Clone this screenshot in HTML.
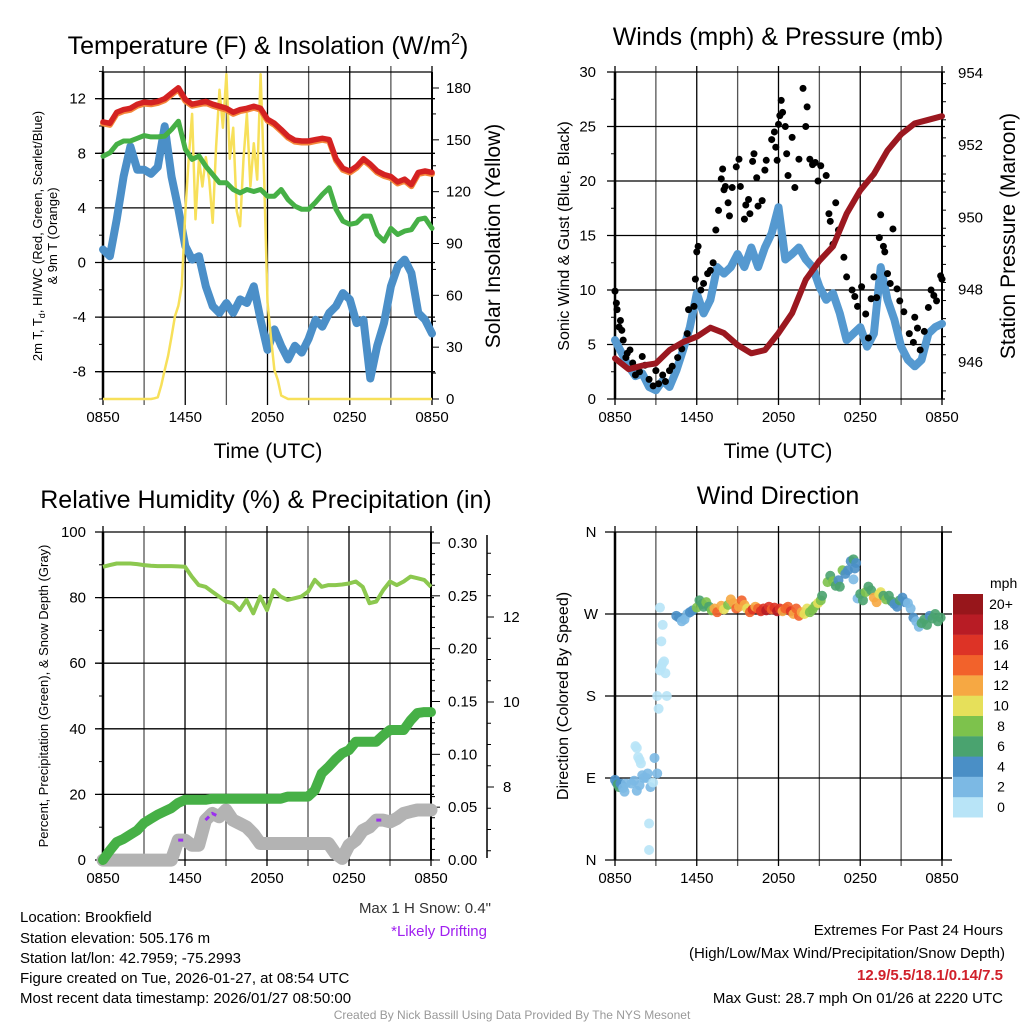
<!DOCTYPE html>
<html><head><meta charset="utf-8"><style>
body{margin:0;background:#fff;}
svg{display:block;font-family:"Liberation Sans",sans-serif;}
</style></head><body>
<svg id="chart" width="1024" height="1024" viewBox="0 0 1024 1024" xmlns="http://www.w3.org/2000/svg">
<rect width="1024" height="1024" fill="#fff"/>
<g id="g1"></g>
<g id="g2"></g>
<g id="g3"></g>
<g id="g4"></g>
<g font-size="25" text-anchor="middle" fill="#000">
<text x="268" y="54">Temperature (F) &amp; Insolation (W/m<tspan dy="-10" font-size="16">2</tspan><tspan dy="10">)</tspan></text>
<text x="778" y="45">Winds (mph) &amp; Pressure (mb)</text>
<text x="266" y="508">Relative Humidity (%) &amp; Precipitation (in)</text>
<text x="778" y="504">Wind Direction</text>
</g>
<g font-size="21" text-anchor="middle">
<text x="268" y="458">Time (UTC)</text>
<text x="778" y="458">Time (UTC)</text>
<text transform="translate(500,236) rotate(-90)">Solar Insolation (Yellow)</text>
<text transform="translate(1015,236) rotate(-90)">Station Pressure (Maroon)</text>
</g>
<g font-size="16" text-anchor="middle">
<text transform="translate(569,236) rotate(-90)">Sonic Wind &amp; Gust (Blue, Black)</text>
<text transform="translate(568,696) rotate(-90)">Direction (Colored By Speed)</text>
</g>
<g font-size="13" text-anchor="middle">
<text transform="translate(42,236) rotate(-90)">2m T, T<tspan font-size="9" dy="3">d</tspan><tspan dy="-3">, HI/WC (Red, Green, Scarlet/Blue)</tspan></text>
<text transform="translate(57,236) rotate(-90)">&amp; 9m T (Orange)</text>
<text transform="translate(48,696) rotate(-90)">Percent, Precipitation (Green), &amp; Snow Depth (Gray)</text>
</g>
<g font-size="15">
<text x="20" y="922">Location: Brookfield</text>
<text x="20" y="943">Station elevation: 505.176 m</text>
<text x="20" y="963">Station lat/lon: 42.7959; -75.2993</text>
<text x="20" y="983">Figure created on Tue, 2026-01-27, at 08:54 UTC</text>
<text x="20" y="1003">Most recent data timestamp: 2026/01/27 08:50:00</text>
</g>
<text x="491" y="913" font-size="15" text-anchor="end" fill="#333">Max 1 H Snow: 0.4"</text>
<text x="487" y="936" font-size="15" text-anchor="end" fill="#a020f0">*Likely Drifting</text>
<g font-size="15" text-anchor="end">
<text x="1003" y="935">Extremes For Past 24 Hours</text>
<text x="1005" y="958">(High/Low/Max Wind/Precipitation/Snow Depth)</text>
<text x="1003" y="980" fill="#d0202a" font-weight="bold">12.9/5.5/18.1/0.14/7.5</text>
<text x="1003" y="1003">Max Gust: 28.7 mph On 01/26 at 2220 UTC</text>
</g>
<text x="512" y="1019" font-size="12" text-anchor="middle" fill="#999">Created By Nick Bassill Using Data Provided By The NYS Mesonet</text>
</svg>
<script>
// ---------- data ----------
const timeLabels = ["0850","1450","2050","0250","0850"];
const tempT = [10.3,10.2,11.0,11.2,11.3,11.6,11.75,11.7,11.8,12.0,12.4,12.8,11.95,11.6,11.7,11.8,11.6,11.45,11.3,11.0,11.2,11.3,11.45,11.3,10.5,10.2,9.74,9.25,8.96,8.9,8.9,9.0,9.1,9.0,7.6,6.9,6.7,7.05,7.6,7.2,6.7,6.45,6.3,5.9,6.1,5.7,6.6,6.7,6.6];
const tempHI = [7.79,8.04,8.65,8.9,8.9,9.1,9.3,9.2,9.2,9.25,9.74,10.35,8.3,7.55,7.8,7.05,6.45,5.84,5.84,5.35,5.1,5.35,5.2,5.35,4.86,4.86,5.35,4.6,4.13,3.9,3.9,4.4,4.98,5.47,3.9,3.03,2.8,2.9,3.4,3.4,2.05,1.57,2.5,2.05,2.3,2.4,3.15,3.25,2.5];
const tempTd = [0.95,0.46,3.15,6.3,8.5,6.8,6.8,6.5,7.0,9.98,6.3,3.9,1.2,0.21,0.46,-1.74,-3.2,-3.7,-2.97,-3.7,-2.7,-2.97,-1.74,-4.2,-6.4,-4.9,-6.1,-7.1,-6.1,-6.6,-5.6,-4.2,-4.7,-3.7,-3.2,-2.24,-2.7,-4.44,-4.2,-8.5,-6.1,-4.44,-1.74,-0.3,0.21,-0.77,-3.7,-4.2,-5.2];
const solar = [0,0,0,0,0,0,0,0,0,0,0,0,0,0,0,0.4,1,8,16.8,25,36,48,54,65.6,108,139,165,104,139,123,140,127,102,146,179,157,188,139,157,109,100,139,165,123,148,127,188,129,56,36,16.8,11,2,1,0,0,0,0,0,0,0,0,0,0,0,0,0,0,0,0,0,0,0,0,0,0,0,0,0,0,0,0,0,0,0,0,0,0,0,0,0,0,0,0,0,0,0];
const windSpd = [5.4,4.2,3.0,2.1,2.35,1.1,0.8,1.7,1.1,2.6,4.5,6.6,9.7,7.85,9.1,12.1,11.5,12.1,13.3,12.1,13.9,12.1,13.9,15.2,17.6,12.8,13.3,13.9,12.8,12.1,10.3,9.1,9.7,7.85,5.4,6.0,6.6,4.8,6.0,12.1,9.1,7.3,4.8,3.6,3.0,3.6,6.0,6.6,6.9];
const gustHours = [0,0.1,0.15,0.3,0.4,0.5,0.6,0.8,0.9,1.1,1.3,1.5,1.8,2.0,2.2,2.5,2.8,3.0,3.2,3.5,3.7,4.0,4.2,4.6,4.9,5.3,5.4,5.8,5.9,6.0,6.1,6.3,6.5,6.8,7.0,7.2,7.4,7.6,7.8,7.9,8.0,8.1,8.3,8.4,8.6,8.9,9.1,9.2,9.5,9.6,9.8,9.9,10.1,10.2,10.4,10.5,10.8,11.0,11.1,11.5,11.7,11.8,11.9,12.0,12.1,12.2,12.3,12.5,12.6,12.7,13.0,13.2,13.5,13.8,14.0,14.1,14.3,14.5,14.7,14.9,15.1,15.5,15.7,15.8,16.0,16.2,16.4,16.8,17.0,17.4,17.6,17.8,18.1,18.4,18.6,18.8,19.0,19.2,19.4,19.5,19.7,19.8,20.0,20.2,20.4,20.7,20.9,21.2,21.6,21.9,22.0,22.2,22.4,22.7,23.0,23.2,23.4,23.6,23.9,24.0];
const gustVals = [9.9,8.8,8.2,6.6,7.2,6.3,5.4,3.8,4.2,4.5,3.3,2.2,2.5,3.9,3.1,1.8,1.2,2.6,1.4,2.2,1.6,2.6,3.0,3.8,4.6,6.0,8.2,8.5,11.0,13.5,14.0,10.0,10.6,11.5,11.8,12.5,15.5,17.3,20.2,21.1,19.2,19.5,18.0,16.8,19.4,21.3,22.0,19.5,16.5,17.8,18.3,17.0,21.8,22.5,20.3,17.7,18.2,21.0,21.9,23.8,24.5,23.1,21.9,25.2,26.0,27.4,26.3,25.0,22.5,20.5,24.0,19.4,22.0,28.5,25.0,26.8,22.0,21.5,21.7,20.0,21.4,20.5,17.0,16.3,14.2,18.0,15.5,13.0,11.2,10.0,9.4,8.5,10.3,7.8,5.6,9.2,11.2,9.3,14.8,16.9,14.0,13.5,11.5,10.6,15.6,10.1,9.0,8.0,6.0,5.2,7.5,6.5,4.5,6.2,8.4,10.0,9.5,9.0,11.3,11.0];
const pressure = [946.1,945.8,945.9,945.96,946.33,946.55,946.7,946.95,946.8,946.47,946.24,946.33,946.8,947.35,948.28,948.8,949.2,950.1,950.75,951.2,951.85,952.3,952.6,952.7,952.8];
const rh = [89.4,89.9,90.4,90.4,90.4,90.2,89.9,89.7,89.6,89.6,89.6,89.5,89.4,86.4,83.8,83.3,81.8,80.3,78.8,78.3,76.2,79.3,75.2,80.3,76.2,82.3,80.3,79.3,79.8,80.3,81.8,85.4,83.3,83.8,83.8,84.0,84.3,84.9,83.3,78.3,78.8,82.3,84.9,83.8,84.9,86.4,85.9,85.4,83.3];
const precip = [0,0.009,0.017,0.02,0.024,0.028,0.035,0.039,0.043,0.046,0.049,0.054,0.057,0.057,0.057,0.057,0.058,0.058,0.058,0.058,0.058,0.058,0.058,0.058,0.058,0.058,0.058,0.06,0.06,0.06,0.06,0.066,0.082,0.088,0.095,0.101,0.104,0.112,0.112,0.112,0.112,0.118,0.123,0.123,0.123,0.132,0.139,0.14,0.14];
const snow = [6.28,6.28,6.28,6.28,6.28,6.28,6.28,6.28,6.28,6.28,6.28,6.75,6.75,6.63,6.63,7.22,7.38,7.3,7.46,7.22,7.14,7.06,6.9,6.67,6.67,6.67,6.67,6.67,6.67,6.67,6.67,6.67,6.67,6.67,6.44,6.32,6.63,6.75,6.98,7.06,7.22,7.22,7.18,7.26,7.38,7.42,7.46,7.46,7.46];
const driftSegs = [[11,12],[15,17],[40,41]];
const dirHours = [0,0.1,0.2,0.3,0.4,0.5,0.6,0.7,0.8,1.2,1.4,1.6,1.8,2.0,2.1,2.3,2.4,2.6,2.8,1.5,1.6,1.7,1.8,1.9,2.9,3.1,2.5,2.5,3.2,3.1,3.3,3.4,3.5,3.6,3.7,3.8,3.4,3.5,3.3,4.5,4.7,4.9,5.1,5.3,5.5,5.7,6.0,6.2,6.4,6.5,6.7,6.9,7.1,7.3,7.5,7.8,8.0,8.3,8.5,8.7,8.9,9.1,9.3,9.5,9.7,9.9,10.1,10.3,10.5,10.7,10.9,11.1,11.3,11.5,11.7,11.9,12.1,12.3,12.5,12.7,12.9,13.1,13.3,13.5,13.7,13.9,14.1,14.3,14.5,14.7,14.9,15.1,15.2,15.6,15.8,16.0,16.2,16.4,16.5,16.7,16.9,17.1,17.3,17.5,17.6,17.7,17.5,17.8,18.0,18.2,18.4,18.6,18.8,19.0,19.2,19.4,19.5,19.7,19.9,20.1,20.3,20.5,20.7,20.9,21.1,21.3,21.5,21.7,21.9,22.1,22.3,22.5,22.7,22.9,23.1,23.3,23.5,23.7,23.9];
const dirDeg = [88,85,83,80,84,82,79,75,84,84,87,76,82,93,90,90,95,80,85,125,123,113,110,106,112,95,40,11,166,180,208,212,216,218,205,180,240,258,277,268,266,262,264,270,272,274,277,285,281,278,283,278,274,276,272,279,275,280,286,282,276,278,285,280,276,272,275,278,276,273,276,274,278,275,277,273,276,273,276,278,273,270,276,268,272,270,276,272,275,279,282,285,290,305,312,306,301,307,300,318,314,318,328,330,320,326,308,287,292,285,294,300,296,288,283,292,294,290,286,290,284,281,278,285,288,283,282,276,266,262,256,260,264,258,268,265,270,262,266];
const dirSpd = [4,4,6,6,5,4,3,3,3,3,2,2,3,3,3,2,3,2,1,1,1,0,0,0,2,2,0,0,0,0,0,0,0,0,0,0,0,1,0,4,4,3,3,3,4,5,8,7,6,6,8,7,9,12,14,12,11,9,12,13,14,12,14,12,10,15,16,13,15,16,17,18,16,14,17,19,16,12,15,14,16,12,15,14,12,10,10,9,8,8,10,8,6,8,6,8,7,5,6,8,5,4,4,6,4,4,3,3,6,6,8,6,6,12,13,10,11,6,8,6,7,4,5,6,4,4,3,3,4,2,2,6,6,6,4,6,6,6,6];
const speedLabels = ["0","2","4","6","8","10","12","14","16","18","20+"];
const speedColors = ["#b8e4f7","#7cb9e4","#4a8fc6","#4aa36f","#7dc24c","#e6e05a","#f6a843","#f2622b","#dd3326","#b81c25","#97161b"];

// ---------- helpers ----------
const NS="http://www.w3.org/2000/svg";
function mk(parent,tag,attrs){const e=document.createElementNS(NS,tag);for(const k in attrs)e.setAttribute(k,attrs[k]);parent.appendChild(e);return e;}
function linScale(d0,d1,r0,r1){return v=>r0+(v-d0)*(r1-r0)/(d1-d0);}
function pathFrom(xs,ys){return xs.map((x,i)=>(i?'L':'M')+x.toFixed(1)+' '+ys[i].toFixed(1)).join('');}

function frame(g,x0,x1,y0,y1){
  const xs=linScale(0,24,x0,x1);
  for(let h=0;h<=24;h+=3){
    const l=mk(g,'line',{x1:xs(h),x2:xs(h),y1:y0-6,y2:y1+6,stroke:(h%6==0)?'#000':'#555','stroke-width':1.3});
    
    
  }
  timeLabels.forEach((t,i)=>{
    const tx=mk(g,'text',{x:xs(i*6),y:y1+23,'font-size':15,'text-anchor':'middle'});
    tx.textContent=t;
    
    
  });
  return xs;
}
function hline(g,x0,x1,y){const l=mk(g,'line',{x1:x0-8,x2:x1+3,y1:y,y2:y,stroke:'#000','stroke-width':1.3});
  
  }
function ylab(g,x,y,t,anchor){const tx=mk(g,'text',{x:x,y:y+5,'font-size':15,'text-anchor':anchor});tx.textContent=t;
  
  }
function border(g,x0,x1,y0,y1){
  mk(g,'line',{x1:x0,x2:x0,y1:y0,y2:y1,stroke:'#000','stroke-width':2.5});
  mk(g,'line',{x1:x1,x2:x1,y1:y0,y2:y1,stroke:'#000','stroke-width':2});
}
function tick(g,x,y,len){mk(g,'line',{x1:x,x2:x+len,y1:y,y2:y,stroke:'#000','stroke-width':1});}

// ---------- panel 1 ----------
(function(){
  const g=document.getElementById('g1');
  const x0=103,x1=432,y0=72,y1=399;
  const xs=frame(g,x0,x1,y0,y1);
  const ys=linScale(-10,14,399,71.4);
  const ysol=linScale(0,180,399,88);
  [12,8,4,0,-4,-8].forEach(v=>{hline(g,x0,x1,ys(v));ylab(g,86,ys(v),String(v),'end');});
  for(let v=-10;v<=14;v+=2)tick(g,x0,ys(v),-4);
  for(let v=0;v<=180;v+=15)tick(g,x1,ysol(v),v%30==0?7:4);
  [0,30,60,90,120,150,180].forEach(v=>ylab(g,446,ysol(v),String(v),'start'));
  mk(g,'line',{x1:x0,x2:x1,y1:y0,y2:y0,stroke:'#000','stroke-width':1.3});
  border(g,x0,x1,y0,y1);
  const hx=tempT.map((_,i)=>xs(i*0.5));
  const td=mk(g,'path',{d:pathFrom(hx,tempTd.map(ys)),fill:'none',stroke:'#4b8fc8','stroke-width':8,'stroke-linejoin':'round','stroke-linecap':'round'});
  
  
  const sx=solar.map((_,i)=>xs(i*0.25));
  const so=mk(g,'path',{d:pathFrom(sx,solar.map(ysol)),fill:'none',stroke:'#f7e05a','stroke-width':2.5,'stroke-linejoin':'round'});
  
  
  const hi=mk(g,'path',{d:pathFrom(hx,tempHI.map(ys)),fill:'none',stroke:'#46b046','stroke-width':5,'stroke-linejoin':'round','stroke-linecap':'round'});
  
  
  const t9=mk(g,'path',{d:pathFrom(hx,tempT.map(v=>ys(v)+1.5)),fill:'none',stroke:'#f5883a','stroke-width':6,'stroke-linejoin':'round','stroke-linecap':'round'});
  
  
  const t2=mk(g,'path',{d:pathFrom(hx,tempT.map(ys)),fill:'none',stroke:'#d42222','stroke-width':5.5,'stroke-linejoin':'round','stroke-linecap':'round'});
  
  
})();

// ---------- panel 2 ----------
(function(){
  const g=document.getElementById('g2');
  const x0=615,x1=942,y0=72,y1=399;
  const xs=frame(g,x0,x1,y0,y1);
  const ys=linScale(0,30,399,72);
  const yp=linScale(946,954,362,72.8);
  for(let v=0;v<=30;v+=5){hline(g,x0,x1,ys(v));ylab(g,596,ys(v),String(v),'end');}
  for(let v=0;v<=30;v+=2.5)tick(g,x0,ys(v),-4);
  for(let p=945.2;p<=954;p+=0.5)tick(g,x1,yp(p),Math.abs(p-Math.round(p))<0.01&&Math.round(p)%2==0?8:4);
  [946,948,950,952,954].forEach(p=>ylab(g,958,yp(p),String(p),'start'));
  border(g,x0,x1,y0,y1);
  const wx=windSpd.map((_,i)=>xs(i*0.5));
  const wl=mk(g,'path',{d:pathFrom(wx,windSpd.map(ys)),fill:'none',stroke:'#5599d0','stroke-width':8,'stroke-linejoin':'round','stroke-linecap':'round'});
  
  
  gustHours.forEach((h,i)=>{
    const c=mk(g,'circle',{cx:xs(h),cy:ys(gustVals[i]),r:3.5,fill:'#000'});
    
    
  });
  const px=pressure.map((_,i)=>xs(i));
  const pl=mk(g,'path',{d:pathFrom(px,pressure.map(yp)),fill:'none',stroke:'#9b1820','stroke-width':6,'stroke-linejoin':'round','stroke-linecap':'round'});
  
  
})();

// ---------- panel 3 ----------
(function(){
  const g=document.getElementById('g3');
  const x0=103,x1=431,y0=532,y1=860;
  const xs=frame(g,x0,x1,y0,y1);
  const ys=linScale(0,100,860,532);
  const yr=linScale(0,0.30,860,543);
  const ysn=linScale(8,12,787,617);
  for(let v=0;v<=100;v+=20){hline(g,x0,x1,ys(v));ylab(g,86,ys(v),String(v),'end');}
  for(let v=0;v<=100;v+=10)tick(g,x0,ys(v),-4);
  for(let v=0;v<=0.31;v+=0.01)tick(g,x1,yr(v),Math.round(v*100)%5==0?9:4);
  [0,0.05,0.10,0.15,0.20,0.25,0.30].forEach(v=>ylab(g,448,yr(v),v.toFixed(2),'start'));
  mk(g,'line',{x1:487,x2:487,y1:535,y2:858,stroke:'#000','stroke-width':1.5});
  for(let v=6.5;v<=13.5;v+=0.5)if(ysn(v)>535&&ysn(v)<858)tick(g,487,ysn(v),Math.abs(v-Math.round(v))<0.01&&Math.round(v)%2==0?7:4);
  [8,10,12].forEach(v=>ylab(g,503,ysn(v),String(v),'start'));
  border(g,x0,x1,y0,y1);
  const hx=rh.map((_,i)=>xs(i*0.5));
  const sn=mk(g,'path',{d:pathFrom(hx,snow.map(ysn)),fill:'none',stroke:'#b3b3b3','stroke-width':13,'stroke-linejoin':'round','stroke-linecap':'round'});
  
  
  driftSegs.forEach(s=>{
    const xx=[],yy=[];for(let i=s[0];i<=s[1];i++){xx.push(hx[i]);yy.push(ysn(snow[i]));}
    const d=mk(g,'path',{d:pathFrom(xx,yy),fill:'none',stroke:'#9b30ef','stroke-width':3,'stroke-dasharray':'5 4'});
    
    
  });
  const pr=mk(g,'path',{d:pathFrom(hx,precip.map(yr)),fill:'none',stroke:'#46b046','stroke-width':10,'stroke-linejoin':'round','stroke-linecap':'round'});
  
  
  const rl=mk(g,'path',{d:pathFrom(hx,rh.map(ys)),fill:'none',stroke:'#8cc84f','stroke-width':4,'stroke-linejoin':'round'});
  
  
})();

// ---------- panel 4 ----------
(function(){
  const g=document.getElementById('g4');
  const x0=615,x1=942,y0=532,y1=860;
  const xs=frame(g,x0,x1,y0,y1);
  const yd=linScale(0,360,860,532);
  [[360,'N'],[270,'W'],[180,'S'],[90,'E'],[0,'N']].forEach(a=>{
    const l=mk(g,'line',{x1:x0-10,x2:x1+10,y1:yd(a[0]),y2:yd(a[0]),stroke:'#000','stroke-width':1.3});
    
    
    ylab(g,591,yd(a[0]),a[1],'middle');
  });
  border(g,x0,x1,y0,y1);
  dirHours.forEach((h,i)=>{
    const bin=Math.min(10,Math.floor(dirSpd[i]/2));
    const c=mk(g,'circle',{cx:xs(h),cy:yd(dirDeg[i]),r:5,fill:speedColors[bin],'fill-opacity':0.9});
    
    
  });
  const leg=mk(g,'g',{});
  
  
  const t=mk(leg,'text',{x:990,y:588,'font-size':14,'text-anchor':'start'});t.textContent='mph';
  for(let i=0;i<11;i++){
    const y=594+(10-i)*20.3;
    const r=mk(leg,'rect',{x:953,y:y,width:30,height:20.5,fill:speedColors[i]});
    
    
    const tx=mk(leg,'text',{x:1001,y:y+15,'font-size':14,'text-anchor':'middle'});tx.textContent=speedLabels[i];
  }
})();
</script>
</body></html>
